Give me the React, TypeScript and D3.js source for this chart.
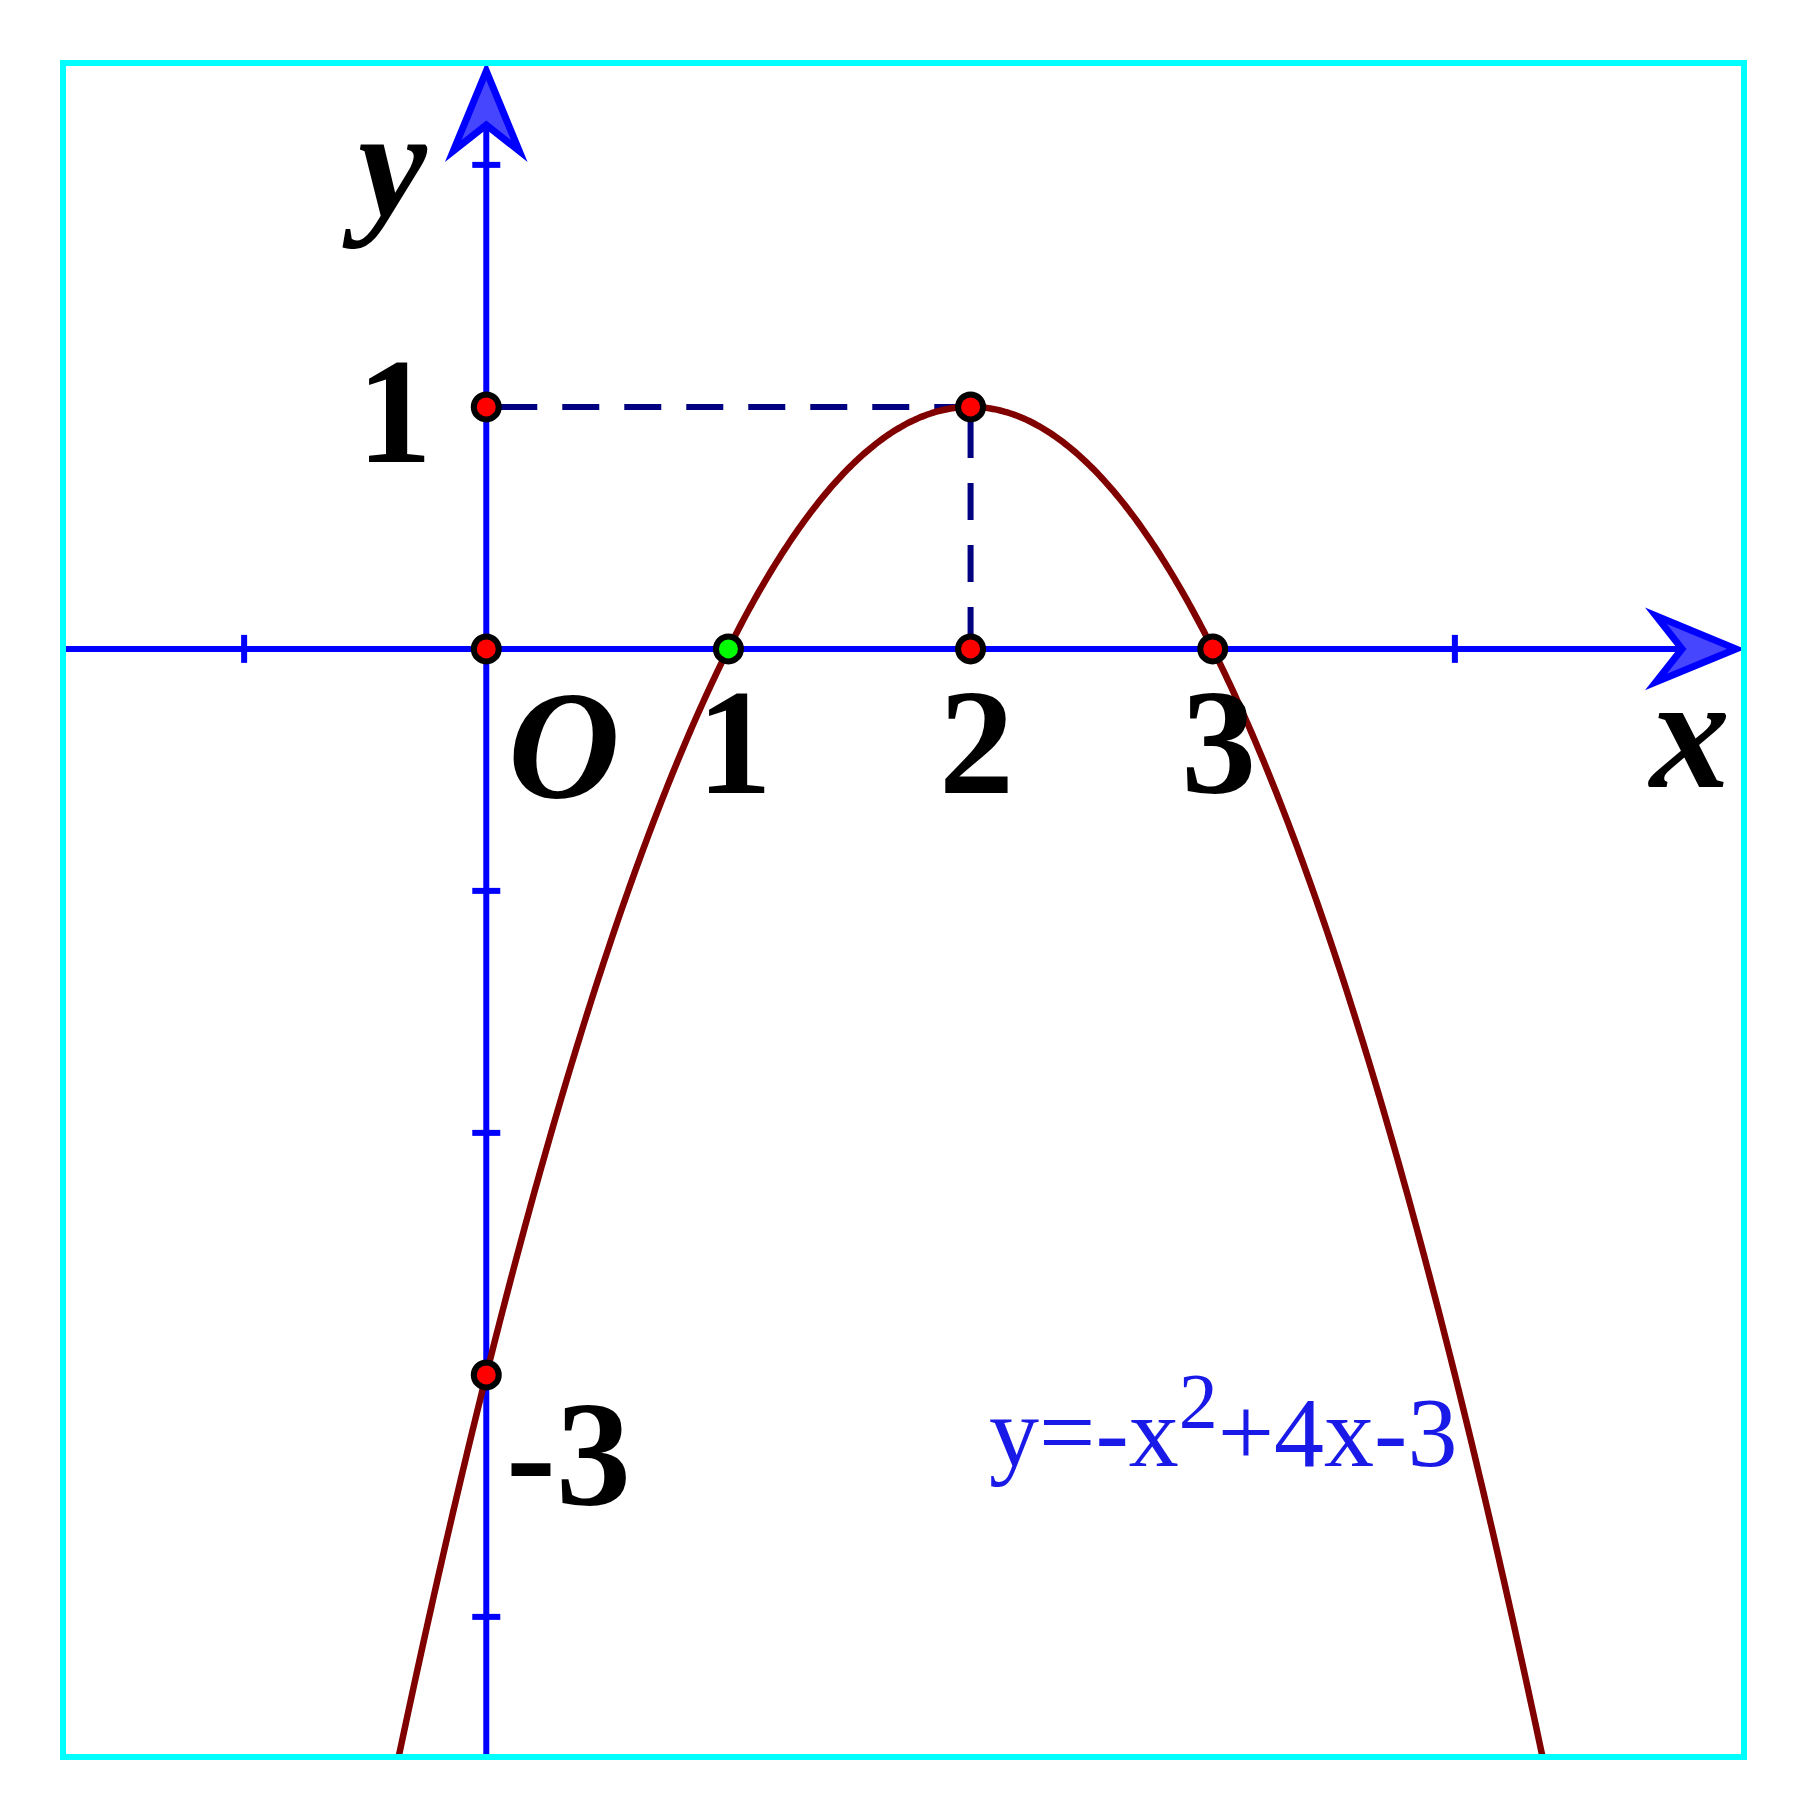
import { useEffect, useRef } from 'react';
import * as d3 from 'd3';

// parabola y = a*x^2 + b*x + c
const coeffs = [-1, 4, -3];
const xDomain = [-1.748, 5.194];
const yDomain = [-4.579, 2.421];
const xTicks = [-1, 4];
const yTicks = [2, -1, -2, -4];
const redPoints: [number, number][] = [[0, 1], [2, 1], [0, 0], [2, 0], [3, 0], [0, -3]];
const greenPoints: [number, number][] = [[1, 0]];
const xTickLabels = ['1', '2', '3'];
const dashedGuides: [number, number][][] = [
  [[0, 1], [2, 1]],
  [[2, 1], [2, 0]],
];

const W = 1807;
const H = 1820;
const SERIF = "Liberation Serif, Times New Roman, Times, serif";

const App = () => {
  const svgRef = useRef<SVGSVGElement | null>(null);

  useEffect(() => {
    document.body.style.margin = '0';
    const svg = d3.select(svgRef.current);
    svg.selectAll('*').remove();
    svg.attr('width', W).attr('height', H);

    const left = 63, right = 1744, top = 63, bottom = 1757;
    const x = d3.scaleLinear().domain(xDomain).range([left, right]);
    const y = d3.scaleLinear().domain(yDomain).range([bottom, top]);
    const f = (v: number) => coeffs[0] * v * v + coeffs[1] * v + coeffs[2];

    svg.append('rect').attr('width', W).attr('height', H).attr('fill', 'white');

    svg.append('defs').append('clipPath').attr('id', 'frame')
      .append('rect')
      .attr('x', left).attr('y', top)
      .attr('width', right - left).attr('height', bottom - top);

    const x0 = x(0), y0 = y(0);
    const barb = 88, arrowHalf = 33, notch = 62;

    // axes
    const axisColor = '#0000ff';
    svg.append('line')
      .attr('x1', left).attr('x2', right - notch)
      .attr('y1', y0).attr('y2', y0)
      .attr('stroke', axisColor).attr('stroke-width', 6);
    svg.append('line')
      .attr('x1', x0).attr('x2', x0)
      .attr('y1', bottom).attr('y2', top + notch)
      .attr('stroke', axisColor).attr('stroke-width', 6);

    xTicks.forEach(t => {
      svg.append('line')
        .attr('x1', x(t)).attr('x2', x(t))
        .attr('y1', y0 - 14).attr('y2', y0 + 14)
        .attr('stroke', axisColor).attr('stroke-width', 6);
    });
    yTicks.forEach(t => {
      svg.append('line')
        .attr('x1', x0 - 14).attr('x2', x0 + 14)
        .attr('y1', y(t)).attr('y2', y(t))
        .attr('stroke', axisColor).attr('stroke-width', 6);
    });

    // arrow heads (tip pulled in so the miter lands on the frame)
    const inset = 8;
    const head = (pts: number[][]) =>
      svg.append('polygon')
        .attr('points', pts.map(p => p.join(',')).join(' '))
        .attr('fill', '#4646ff').attr('stroke', axisColor)
        .attr('stroke-width', 7).attr('stroke-linejoin', 'miter');
    head([[right - inset, y0], [right - barb, y0 - arrowHalf], [right - notch, y0], [right - barb, y0 + arrowHalf]]);
    head([[x0, top + inset], [x0 - arrowHalf, top + barb], [x0, top + notch], [x0 + arrowHalf, top + barb]]);

    // dashed guides
    dashedGuides.forEach(seg => {
      svg.append('line')
        .attr('x1', x(seg[0][0])).attr('y1', y(seg[0][1]))
        .attr('x2', x(seg[1][0])).attr('y2', y(seg[1][1]))
        .attr('stroke', '#000080').attr('stroke-width', 6)
        .attr('stroke-dasharray', '37 25')
        .attr('stroke-dashoffset', -14);
    });

    // parabola
    const samples = d3.range(xDomain[0], xDomain[1], 0.01);
    const line = d3.line<number>().x(d => x(d)).y(d => y(f(d)));
    svg.append('path')
      .attr('d', line(samples) as string)
      .attr('fill', 'none')
      .attr('stroke', '#800000')
      .attr('stroke-width', 6.5)
      .attr('clip-path', 'url(#frame)');

    // frame
    svg.append('rect')
      .attr('x', left).attr('y', top)
      .attr('width', right - left).attr('height', bottom - top)
      .attr('fill', 'none').attr('stroke', '#00ffff').attr('stroke-width', 6);

    // points
    const drawPoints = (pts: [number, number][], fill: string) => {
      svg.append('g').selectAll('circle')
        .data(pts)
        .enter()
        .append('circle')
        .attr('cx', d => x(d[0]))
        .attr('cy', d => y(d[1]))
        .attr('r', 12.5)
        .attr('fill', fill)
        .attr('stroke', 'black')
        .attr('stroke-width', 6);
    };
    drawPoints(redPoints, '#ff0000');
    drawPoints(greenPoints, '#00ff00');

    // labels
    const label = (txt: string, px: number, py: number, size: number, italic: boolean, anchor = 'start') => {
      svg.append('text')
        .attr('x', px).attr('y', py)
        .attr('text-anchor', anchor)
        .attr('font-family', SERIF)
        .attr('font-size', size)
        .attr('font-weight', 'bold')
        .attr('font-style', italic ? 'italic' : 'normal')
        .attr('fill', 'black')
        .text(txt);
    };

    xTickLabels.forEach((t, i) => {
      label(t, x(i + 1) + 6, y0 + 144, 150, false, 'middle');
    });
    label('O', 508, y0 + 148, 155, true);
    label('1', 432, y(1) + 55, 150, false, 'end');
    label('-3', 506, y(-3) + 130, 150, false);
    label('x', 1650, 787, 160, true);
    label('y', 358, 216, 155, true);

    // equation
    const eq = svg.append('text')
      .attr('x', 989).attr('y', 1466)
      .attr('font-family', SERIF)
      .attr('font-size', 100)
      .attr('fill', '#1a1ae8');
    eq.append('tspan').text('y=-x');
    eq.append('tspan').attr('dy', -39).attr('font-size', 78).text('2');
    eq.append('tspan').attr('dy', 39).text('+4x-3');
  }, []);

  return <svg ref={svgRef}></svg>;
};

export default App;
